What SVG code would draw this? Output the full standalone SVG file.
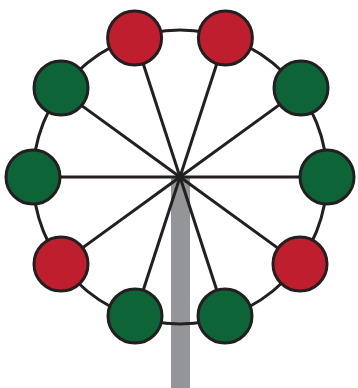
<svg xmlns="http://www.w3.org/2000/svg" width="358" height="388" viewBox="0 0 358 388">
<style>
.rim{fill:none;stroke:#231f20;stroke-width:3}
.sp{stroke:#231f20;stroke-width:3}
.r{fill:#be1e2d;stroke:#231f20;stroke-width:3}
.g{fill:#0d6537;stroke:#231f20;stroke-width:3}
</style>
<rect id="pole" x="171" y="177" width="19" height="211" fill="#939598"/>
<g id="connectors">
<circle class="rim" cx="180" cy="177" r="147"/>
<line class="sp" x1="180" y1="177" x2="327" y2="177"/>
<line class="sp" x1="180" y1="177" x2="298.9" y2="90.6"/>
<line class="sp" x1="180" y1="177" x2="225.4" y2="37.2"/>
<line class="sp" x1="180" y1="177" x2="134.6" y2="37.2"/>
<line class="sp" x1="180" y1="177" x2="61.1" y2="90.6"/>
<line class="sp" x1="180" y1="177" x2="33" y2="177"/>
<line class="sp" x1="180" y1="177" x2="61.1" y2="263.4"/>
<line class="sp" x1="180" y1="177" x2="134.6" y2="316.8"/>
<line class="sp" x1="180" y1="177" x2="225.4" y2="316.8"/>
<line class="sp" x1="180" y1="177" x2="298.9" y2="263.4"/>
</g>
<g id="c0"><circle class="g" cx="327" cy="177" r="27"/></g>
<g id="c1"><circle class="g" cx="301" cy="88" r="27"/></g>
<g id="c2"><circle class="r" cx="225.4" cy="38" r="27"/></g>
<g id="c3"><circle class="r" cx="134.6" cy="38" r="27"/></g>
<g id="c4"><circle class="g" cx="61" cy="88" r="27"/></g>
<g id="c5"><circle class="g" cx="33" cy="177" r="27"/></g>
<g id="c6"><circle class="r" cx="61" cy="264" r="27"/></g>
<g id="c7"><circle class="g" cx="135" cy="316" r="27"/></g>
<g id="c8"><circle class="g" cx="225" cy="316" r="27"/></g>
<g id="c9"><circle class="r" cx="300" cy="264" r="27"/></g>
</svg>
